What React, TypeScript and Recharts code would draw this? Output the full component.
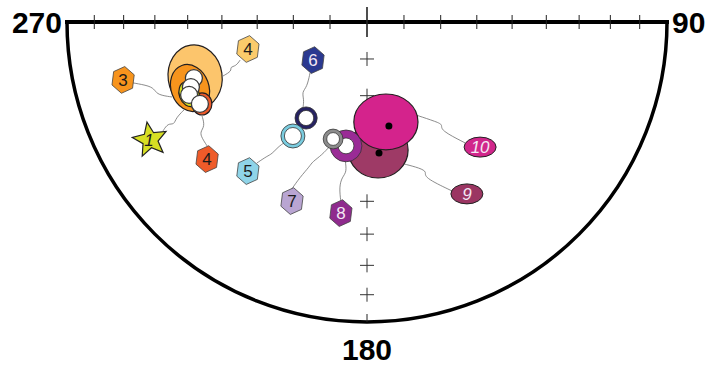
import React from 'react';
import { ScatterChart, Scatter, XAxis, YAxis } from 'recharts';

// lower-hemisphere equal-area net, unit radius: x east (+), y north (+)
const CHART_W = 710;
const CHART_H = 367;
const MARGIN = { top: 22, right: 43, bottom: 45, left: 67 };
const UNIT = (CHART_W - MARGIN.left - MARGIN.right) / 2; // px for radius 1

const FONT = "'Liberation Sans', Arial, sans-serif";

const tickDegrees = [10, 20, 30, 40, 50, 60, 70, 80];
const cardinals = [
  { x: -1, y: 0, label: '270' },
  { x: 1, y: 0, label: '90' },
  { x: 0, y: -1, label: '180' },
];

// confidence ellipses (semi-axes a, b in net units, rot in degrees)
const ellipses = [
  { id: '4y', x: -0.573, y: -0.183, a: 0.09, b: 0.107, rot: -8 },
  { id: '3', x: -0.59, y: -0.22, a: 0.063, b: 0.08, rot: -20 },
  { id: '4r', x: -0.55, y: -0.273, a: 0.033, b: 0.037, rot: 0 },
  { id: '1', x: -0.593, y: -0.24, a: 0.033, b: 0.043, rot: -20 },
  { id: '9', x: 0.037, y: -0.427, a: 0.1, b: 0.093, rot: 0 },
  { id: '10', x: 0.063, y: -0.333, a: 0.107, b: 0.093, rot: 0 },
];

// small cones drawn as rings
const rings = [
  { id: '6', x: -0.203, y: -0.32, r: 0.037 },
  { id: '5', x: -0.247, y: -0.38, r: 0.04 },
  { id: '8', x: -0.07, y: -0.413, r: 0.053 },
  { id: '7', x: -0.113, y: -0.39, r: 0.033 },
];

// mean directions
const means = [
  { x: -0.577, y: -0.187 },
  { x: -0.587, y: -0.217 },
  { x: -0.593, y: -0.243 },
  { x: -0.557, y: -0.273 },
];
const poles = [
  { x: 0.073, y: -0.347 },
  { x: 0.04, y: -0.437 },
];

// site labels
const hexLabels = [
  { id: '3', text: '3', x: -0.813, y: -0.193 },
  { id: '4y', text: '4', x: -0.397, y: -0.09 },
  { id: '4r', text: '4', x: -0.533, y: -0.457 },
  { id: '6', text: '6', x: -0.18, y: -0.127 },
  { id: '5', text: '5', x: -0.397, y: -0.497 },
  { id: '7', text: '7', x: -0.25, y: -0.597 },
  { id: '8', text: '8', x: -0.087, y: -0.637 },
];
const starLabels = [{ id: '1', text: '1', x: -0.723, y: -0.393 }];
const ovalLabels = [
  { id: '10', text: '10', x: 0.377, y: -0.417 },
  { id: '9', text: '9', x: 0.333, y: -0.573 },
];

// leader lines from label to symbol
const leader3 = [
  { x: -0.78, y: -0.203 }, { x: -0.723, y: -0.213 }, { x: -0.707, y: -0.227 },
  { x: -0.697, y: -0.243 }, { x: -0.65, y: -0.25 },
];
const leader4y = [
  { x: -0.423, y: -0.127 }, { x: -0.437, y: -0.147 }, { x: -0.457, y: -0.15 },
  { x: -0.45, y: -0.163 }, { x: -0.48, y: -0.18 },
];
const leader1 = [
  { x: -0.68, y: -0.363 }, { x: -0.663, y: -0.337 }, { x: -0.643, y: -0.343 },
  { x: -0.637, y: -0.32 }, { x: -0.61, y: -0.293 },
];
const leader4r = [
  { x: -0.533, y: -0.413 }, { x: -0.55, y: -0.387 }, { x: -0.557, y: -0.367 },
  { x: -0.54, y: -0.347 }, { x: -0.55, y: -0.313 },
];
const leader6 = [
  { x: -0.19, y: -0.17 }, { x: -0.2, y: -0.217 }, { x: -0.217, y: -0.233 },
  { x: -0.21, y: -0.26 }, { x: -0.213, y: -0.283 },
];
const leader5 = [
  { x: -0.367, y: -0.47 }, { x: -0.333, y: -0.447 }, { x: -0.317, y: -0.44 },
  { x: -0.297, y: -0.417 }, { x: -0.273, y: -0.4 },
];
const leader7 = [
  { x: -0.253, y: -0.56 }, { x: -0.223, y: -0.517 }, { x: -0.19, y: -0.48 },
  { x: -0.183, y: -0.467 }, { x: -0.15, y: -0.443 }, { x: -0.123, y: -0.413 },
];
const leader8 = [
  { x: -0.087, y: -0.6 }, { x: -0.093, y: -0.55 }, { x: -0.083, y: -0.517 },
  { x: -0.067, y: -0.5 }, { x: -0.073, y: -0.46 },
];
const leader10 = [
  { x: 0.327, y: -0.403 }, { x: 0.243, y: -0.36 }, { x: 0.253, y: -0.343 },
  { x: 0.233, y: -0.333 }, { x: 0.163, y: -0.31 },
];
const leader9 = [
  { x: 0.283, y: -0.563 }, { x: 0.187, y: -0.517 }, { x: 0.2, y: -0.5 },
  { x: 0.177, y: -0.487 }, { x: 0.123, y: -0.473 },
];
const leaders = [leader3, leader4y, leader1, leader4r, leader6, leader5, leader7, leader8, leader10, leader9];

const ELLIPSE_FILL: Record<string, string> = {
  '4y': '#fcc56c',
  '3': '#f7941d',
  '4r': '#ee5a2a',
  '1': '#d7df23',
  '9': '#9e3a66',
  '10': '#d4238c',
};
const RING_COLOR: Record<string, string> = {
  '6': '#262262',
  '5': '#7accdf',
  '8': '#9a2b96',
  '7': '#8c8c8c',
};
const LABEL_FILL: Record<string, string> = {
  '3': '#f7941d',
  '4y': '#fbcb6b',
  '4r': '#ef5b29',
  '6': '#2b3990',
  '5': '#8fd4e8',
  '7': '#b9a5d2',
  '8': '#8f2a8d',
  '1': '#d7df23',
  '10': '#d1268b',
  '9': '#9b3562',
};
const LIGHT_TEXT = ['6', '8', '10', '9'];

// equal-area radius for an angular distance from the centre
const eqArea = (deg: number) => Math.SQRT2 * Math.sin((deg * Math.PI) / 360);

const edgeTicks = [0, ...tickDegrees.flatMap((d) => [-eqArea(d), eqArea(d)])].map((x) => ({ x, y: 0 }));
const crossTicks = tickDegrees.map((d) => ({ x: 0, y: -eqArea(d) }));
const frame = [{ x: 0, y: 0 }];

const NoShape = () => <g />;

const FrameShape = (p: any) => {
  const { cx, cy } = p;
  const R = UNIT;
  return (
    <g>
      <path
        d={`M${cx + R},${cy} A${R},${R} 0 0 1 ${cx - R},${cy}`}
        fill='#fff'
        stroke='#000'
        strokeWidth={3.5}
      />
      <line x1={cx - R} y1={cy} x2={cx + R} y2={cy} stroke='#000' strokeWidth={4} strokeLinecap='square' />
      <line x1={cx} y1={cy + R - 8} x2={cx} y2={cy + R} stroke='#222' strokeWidth={1} />
    </g>
  );
};

const EdgeTick = (p: any) => {
  const { cx, cy, payload } = p;
  const h = payload.x === 0 ? 15 : 7;
  return <line x1={cx} y1={cy - h} x2={cx} y2={cy + h} stroke='#222' strokeWidth={payload.x === 0 ? 1.6 : 1} />;
};

const CrossTick = (p: any) => {
  const { cx, cy } = p;
  return (
    <g stroke='#333' strokeWidth={1}>
      <line x1={cx - 7} y1={cy} x2={cx + 7} y2={cy} />
      <line x1={cx} y1={cy - 7} x2={cx} y2={cy + 7} />
    </g>
  );
};

const CardinalLabel = (p: any) => {
  const { cx, cy, payload } = p;
  const anchor = payload.x < 0 ? 'end' : payload.x > 0 ? 'start' : 'middle';
  const dx = payload.x < 0 ? -5 : payload.x > 0 ? 5 : 0;
  const dy = payload.y < 0 ? 38 : 11;
  return (
    <text x={cx + dx} y={cy + dy} textAnchor={anchor} fontFamily={FONT} fontWeight='bold' fontSize={30} fill='#000'>
      {payload.label}
    </text>
  );
};

const EllipseShape = (p: any) => {
  const { cx, cy, payload } = p;
  return (
    <ellipse
      cx={cx}
      cy={cy}
      rx={payload.a * UNIT}
      ry={payload.b * UNIT}
      transform={`rotate(${payload.rot} ${cx} ${cy})`}
      fill={ELLIPSE_FILL[payload.id]}
      stroke='#231f20'
      strokeWidth={1.2}
    />
  );
};

const RingShape = (p: any) => {
  const { cx, cy, payload } = p;
  const r = payload.r * UNIT;
  const inner = payload.id === '8' ? r * 0.5 : r - 3.5;
  return (
    <g>
      <circle cx={cx} cy={cy} r={r} fill={RING_COLOR[payload.id]} stroke='#333' strokeWidth={0.8} />
      <circle cx={cx} cy={cy} r={inner} fill='#fff' stroke='#333' strokeWidth={0.8} />
    </g>
  );
};

const MeanShape = (p: any) => (
  <circle cx={p.cx} cy={p.cy} r={8.5} fill='#fff' stroke='#3a3a3a' strokeWidth={1.3} />
);

const PoleShape = (p: any) => <circle cx={p.cx} cy={p.cy} r={3.5} fill='#000' />;

const labelText = (cx: number, cy: number, id: string, text: string, italic = false) => (
  <text
    x={cx}
    y={cy + 6}
    textAnchor='middle'
    fontFamily={FONT}
    fontSize={17}
    fontStyle={italic ? 'italic' : 'normal'}
    fill={LIGHT_TEXT.includes(id) ? '#f4e8f4' : '#1a1a1a'}
  >
    {text}
  </text>
);

const HexShape = (p: any) => {
  const { cx, cy, payload } = p;
  const pts = Array.from({ length: 6 }, (_, i) => {
    const a = ((-90 + 60 * i + 8) * Math.PI) / 180;
    return `${cx + 12 * Math.cos(a)},${cy + 13.5 * Math.sin(a)}`;
  }).join(' ');
  return (
    <g>
      <polygon points={pts} fill={LABEL_FILL[payload.id]} stroke='#444' strokeWidth={0.8} />
      {labelText(cx, cy, payload.id, payload.text)}
    </g>
  );
};

const StarShape = (p: any) => {
  const { cx, cy, payload } = p;
  const pts = Array.from({ length: 10 }, (_, i) => {
    const a = ((-90 + 36 * i - 10) * Math.PI) / 180;
    const r = i % 2 === 0 ? 18 : 8;
    return `${cx + r * Math.cos(a)},${cy + r * Math.sin(a)}`;
  }).join(' ');
  return (
    <g>
      <polygon points={pts} fill={LABEL_FILL[payload.id]} stroke='#222' strokeWidth={1.2} />
      {labelText(cx - 1, cy, payload.id, payload.text, true)}
    </g>
  );
};

const OvalShape = (p: any) => {
  const { cx, cy, payload } = p;
  return (
    <g>
      <ellipse cx={cx} cy={cy} rx={16} ry={10} fill={LABEL_FILL[payload.id]} stroke='#222' strokeWidth={1} />
      {labelText(cx, cy, payload.id, payload.text, true)}
    </g>
  );
};

export default function App() {
  return (
    <div style={{ width: CHART_W, height: CHART_H, background: '#fff' }}>
      <style>{'body{margin:0}'}</style>
      <ScatterChart width={CHART_W} height={CHART_H} margin={MARGIN}>
        <XAxis type='number' dataKey='x' domain={[-1, 1]} hide />
        <YAxis type='number' dataKey='y' domain={[-1, 0]} hide />
        <Scatter data={frame} shape={FrameShape} isAnimationActive={false} />
        <Scatter data={edgeTicks} shape={EdgeTick} isAnimationActive={false} />
        <Scatter data={crossTicks} shape={CrossTick} isAnimationActive={false} />
        <Scatter data={cardinals} shape={CardinalLabel} isAnimationActive={false} />
        {leaders.map((pts, i) => (
          <Scatter
            key={`leader-${i}`}
            data={pts}
            line={{ stroke: '#6f6f6f', strokeWidth: 0.8 }}
            lineJointType='basis'
            shape={NoShape}
            isAnimationActive={false}
          />
        ))}
        <Scatter data={ellipses} shape={EllipseShape} isAnimationActive={false} />
        <Scatter data={rings} shape={RingShape} isAnimationActive={false} />
        <Scatter data={means} shape={MeanShape} isAnimationActive={false} />
        <Scatter data={poles} shape={PoleShape} isAnimationActive={false} />
        <Scatter data={hexLabels} shape={HexShape} isAnimationActive={false} />
        <Scatter data={starLabels} shape={StarShape} isAnimationActive={false} />
        <Scatter data={ovalLabels} shape={OvalShape} isAnimationActive={false} />
      </ScatterChart>
    </div>
  );
}
